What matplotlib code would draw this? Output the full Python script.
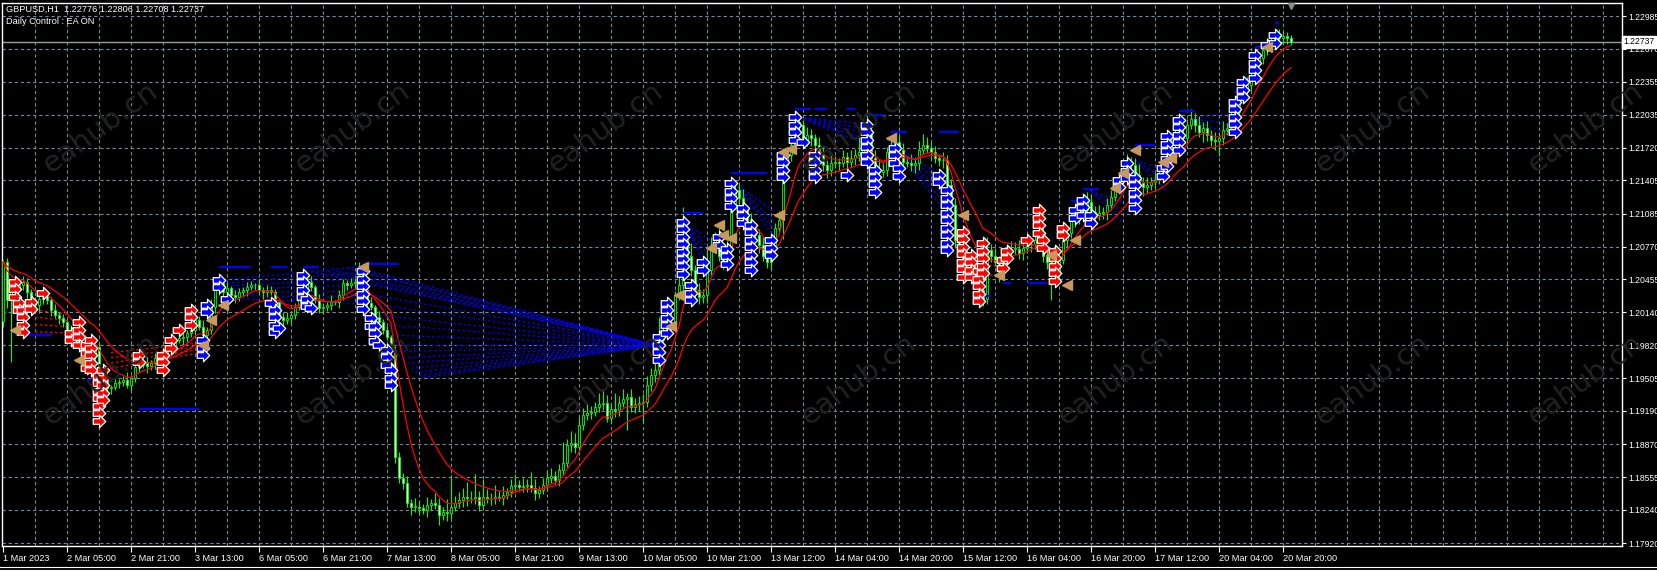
import numpy as np
import pandas as pd
import matplotlib
matplotlib.use("Agg")
import matplotlib.pyplot as plt
from matplotlib.path import Path
from matplotlib.lines import Line2D
from matplotlib.transforms import blended_transform_factory

plt.rcParams['font.family'] = ['Liberation Sans', 'DejaVu Sans']

# ---- data (GBPUSD H1) ----
symbol = "GBPUSD,H1"
first_open = 1.2005
closes = [
    1.2062, 1.2026, 1.2033, 1.2037, 1.2040, 1.2043, 1.2033, 1.2026, 1.2021, 1.2027, 1.2030, 1.2026, 1.2016, 1.2011, 1.2008, 1.2004, 1.1997, 1.1991, 1.1987, 1.1982,
    1.1978, 1.1975, 1.1971, 1.1980, 1.1956, 1.1951, 1.1941, 1.1942, 1.1946, 1.1947, 1.1949, 1.1944, 1.1951, 1.1961, 1.1963, 1.1965, 1.1962, 1.1965, 1.1970, 1.1972,
    1.1975, 1.1978, 1.1981, 1.1987, 1.1989, 1.1990, 1.1994, 1.1997, 1.2006, 1.2000, 1.1992, 1.1997, 1.2019, 1.2035, 1.2042, 1.2033, 1.2037, 1.2030, 1.2028, 1.2033,
    1.2035, 1.2038, 1.2040, 1.2040, 1.2035, 1.2033, 1.2035, 1.2033, 1.2024, 1.2009, 1.2006, 1.2008, 1.2011, 1.2019, 1.2027, 1.2035, 1.2043, 1.2038, 1.2026, 1.2018,
    1.2019, 1.2021, 1.2024, 1.2024, 1.2030, 1.2042, 1.2040, 1.2042, 1.2043, 1.2050, 1.2035, 1.2023, 1.2019, 1.2009, 1.2004, 1.1997, 1.1990, 1.1978, 1.1875, 1.1855,
    1.1850, 1.1831, 1.1827, 1.1827, 1.1826, 1.1824, 1.1829, 1.1831, 1.1829, 1.1819, 1.1822, 1.1821, 1.1827, 1.1831, 1.1833, 1.1836, 1.1835, 1.1835, 1.1836, 1.1829,
    1.1836, 1.1835, 1.1835, 1.1836, 1.1835, 1.1838, 1.1841, 1.1847, 1.1848, 1.1846, 1.1847, 1.1848, 1.1845, 1.1840, 1.1843, 1.1848, 1.1855, 1.1856, 1.1853, 1.1862,
    1.1869, 1.1886, 1.1888, 1.1884, 1.1905, 1.1915, 1.1917, 1.1918, 1.1923, 1.1926, 1.1927, 1.1912, 1.1921, 1.1920, 1.1927, 1.1930, 1.1932, 1.1923, 1.1926, 1.1927,
    1.1928, 1.1944, 1.1954, 1.1958, 1.1987, 1.1997, 1.2004, 1.2001, 1.2030, 1.2040, 1.2083, 1.2068, 1.2054, 1.2035, 1.2028, 1.2030, 1.2054, 1.2078, 1.2086, 1.2068,
    1.2062, 1.2074, 1.2117, 1.2131, 1.2124, 1.2112, 1.2102, 1.2095, 1.2088, 1.2078, 1.2068, 1.2062, 1.2078, 1.2095, 1.2102, 1.2155, 1.2165, 1.2175, 1.2197, 1.2194,
    1.2179, 1.2184, 1.2181, 1.2175, 1.2165, 1.2155, 1.2151, 1.2157, 1.2158, 1.2157, 1.2163, 1.2158, 1.2162, 1.2165, 1.2168, 1.2170, 1.2189, 1.2162, 1.2151, 1.2149,
    1.2151, 1.2168, 1.2174, 1.2177, 1.2170, 1.2158, 1.2157, 1.2155, 1.2157, 1.2170, 1.2175, 1.2172, 1.2168, 1.2162, 1.2160, 1.2160, 1.2136, 1.2117, 1.2083, 1.2078,
    1.2054, 1.2064, 1.2050, 1.2054, 1.2035, 1.2027, 1.2074, 1.2068, 1.2062, 1.2050, 1.2066, 1.2074, 1.2075, 1.2075, 1.2071, 1.2076, 1.2078, 1.2079, 1.2083, 1.2091,
    1.2068, 1.2062, 1.2052, 1.2050, 1.2064, 1.2083, 1.2090, 1.2102, 1.2107, 1.2109, 1.2112, 1.2120, 1.2110, 1.2107, 1.2109, 1.2110, 1.2117, 1.2125, 1.2134, 1.2141,
    1.2151, 1.2158, 1.2155, 1.2146, 1.2138, 1.2134, 1.2136, 1.2139, 1.2141, 1.2146, 1.2155, 1.2165, 1.2175, 1.2184, 1.2183, 1.2181, 1.2194, 1.2200, 1.2194, 1.2187,
    1.2191, 1.2184, 1.2179, 1.2178, 1.2181, 1.2189, 1.2191, 1.2199, 1.2206, 1.2220, 1.2227, 1.2232, 1.2239, 1.2254, 1.2258, 1.2266, 1.2271, 1.2274, 1.2280, 1.2277,
    1.2279, 1.22776, 1.22737,
]
# wick lengths beyond the body, in pips
hi_ext = [
    2, 4, 3, 5, 3, 6, 4, 3, 2, 5, 4, 3, 2, 6, 3, 4, 2, 5, 3, 4,
    3, 5, 2, 8, 4, 3, 6, 2, 5, 3, 4, 7, 3, 5, 2, 4, 6, 3, 5, 2,
    4, 3, 6, 2, 5, 4, 3, 7, 5, 4, 6, 3, 8, 5, 4, 3, 6, 2, 5, 4,
    3, 5, 4, 2, 6, 3, 5, 4, 3, 2, 5, 6, 3, 4, 5, 3, 4, 6, 2, 5,
    4, 3, 6, 2, 5, 4, 3, 5, 4, 12, 3, 4, 5, 2, 6, 3, 4, 2, 3, 5,
    4, 6, 3, 8, 5, 4, 7, 3, 9, 6, 5, 12, 30, 6, 8, 9, 15, 7, 22, 6,
    18, 8, 5, 12, 6, 9, 4, 7, 10, 5, 8, 6, 12, 9, 4, 7, 6, 8, 5, 6,
    20, 6, 12, 10, 8, 7, 9, 6, 5, 10, 13, 7, 5, 15, 6, 10, 4, 8, 5, 6,
    7, 9, 6, 8, 22, 6, 5, 10, 4, 8, 32, 6, 12, 5, 7, 6, 20, 8, 5, 9,
    6, 8, 10, 5, 6, 8, 4, 7, 5, 6, 8, 4, 6, 5, 9, 12, 5, 8, 10, 6,
    5, 8, 6, 4, 7, 9, 5, 8, 6, 4, 7, 5, 8, 6, 14, 5, 18, 6, 8, 10,
    6, 5, 8, 4, 7, 6, 5, 9, 6, 8, 10, 7, 5, 6, 4, 8, 5, 6, 7, 5,
    12, 6, 8, 5, 7, 6, 12, 5, 8, 6, 10, 5, 7, 6, 8, 5, 9, 6, 8, 10,
    6, 5, 7, 8, 6, 9, 5, 7, 8, 6, 5, 9, 7, 6, 8, 5, 7, 6, 9, 8,
    6, 8, 5, 7, 10, 6, 8, 5, 7, 6, 8, 9, 6, 5, 8, 7, 6, 9, 5, 8,
    6, 7, 5, 8, 6, 9, 5, 7, 8, 6, 5, 8, 7, 6, 5, 7, 6, 5, 4, 6,
    5, 4, 3,
]
lo_ext = [
    5, 8, 60, 4, 3, 5, 6, 4, 3, 8, 5, 4, 6, 3, 5, 4, 7, 3, 5, 4,
    6, 4, 5, 3, 7, 5, 4, 6, 3, 5, 4, 3, 6, 4, 5, 3, 7, 4, 6, 5,
    3, 5, 4, 6, 3, 7, 5, 4, 6, 3, 5, 8, 4, 6, 5, 4, 3, 6, 5, 3,
    4, 6, 3, 5, 4, 6, 5, 3, 7, 4, 6, 3, 5, 4, 3, 6, 5, 4, 3, 5,
    6, 4, 5, 3, 6, 4, 5, 3, 4, 6, 5, 4, 3, 6, 5, 4, 3, 5, 6, 5,
    6, 4, 8, 5, 6, 4, 7, 5, 4, 10, 5, 8, 6, 4, 5, 6, 7, 4, 5, 6,
    5, 4, 6, 5, 3, 6, 4, 5, 6, 4, 5, 6, 4, 7, 5, 4, 6, 5, 4, 6,
    5, 4, 6, 5, 7, 4, 5, 6, 4, 5, 6, 4, 5, 7, 6, 4, 29, 5, 6, 7,
    20, 5, 6, 7, 4, 5, 8, 6, 5, 4, 7, 6, 5, 8, 6, 5, 7, 4, 6, 5,
    7, 5, 6, 4, 7, 8, 5, 6, 4, 7, 5, 6, 8, 4, 6, 18, 5, 6, 4, 5,
    6, 5, 7, 4, 6, 5, 8, 6, 5, 7, 4, 6, 5, 7, 6, 5, 4, 6, 5, 7,
    5, 6, 4, 7, 5, 6, 4, 5, 7, 6, 4, 5, 7, 5, 6, 8, 6, 10, 7, 5,
    13, 6, 5, 8, 6, 7, 5, 6, 4, 7, 5, 6, 8, 5, 6, 7, 5, 6, 4, 5,
    6, 7, 26, 5, 6, 4, 7, 5, 6, 8, 5, 6, 4, 7, 5, 6, 8, 5, 4, 6,
    5, 6, 4, 7, 5, 8, 6, 5, 7, 4, 6, 5, 7, 6, 8, 5, 6, 4, 7, 5,
    10, 6, 5, 8, 14, 6, 5, 7, 4, 6, 5, 7, 6, 5, 4, 6, 5, 7, 6, 4,
    5, 6, 3,
]

time_labels = ["1 Mar 2023", "2 Mar 05:00", "2 Mar 21:00", "3 Mar 13:00", "6 Mar 05:00",
               "6 Mar 21:00", "7 Mar 13:00", "8 Mar 05:00", "8 Mar 21:00", "9 Mar 13:00",
               "10 Mar 05:00", "10 Mar 21:00", "13 Mar 12:00", "14 Mar 04:00", "14 Mar 20:00",
               "15 Mar 12:00", "16 Mar 04:00", "16 Mar 20:00", "17 Mar 12:00", "20 Mar 04:00",
               "20 Mar 20:00"]
price_levels = [1.22985, 1.22670, 1.22355, 1.22035, 1.21720, 1.21405, 1.21085, 1.20770, 1.20455,
                1.20140, 1.19820, 1.19505, 1.19190, 1.18870, 1.18555, 1.18240, 1.17920]
last_high, last_low = 1.22806, 1.22708

# signal arrows: (bar, top price, how many stacked)
red_stacks = [(3, 1.2043, 3), (4, 1.2023, 2), (5, 1.2016, 4), (7, 1.2024, 2), (10, 1.2032, 1),
              (17, 1.1994, 2), (19, 1.2004, 4), (21, 1.1982, 4), (22, 1.1987, 5), (24, 1.1953, 7),
              (25, 1.1958, 5), (34, 1.1973, 2), (40, 1.1973, 3), (42, 1.1987, 2), (44, 1.1997, 1),
              (47, 1.2016, 3), (240, 1.2091, 7), (242, 1.2069, 4), (244, 1.2053, 5), (245, 1.2080, 5),
              (250, 1.2064, 2), (251, 1.2073, 2), (256, 1.2083, 1), (259, 1.2112, 4), (260, 1.2083, 2),
              (263, 1.2073, 5), (265, 1.2095, 2)]
blue_stacks = [(50, 1.1987, 3), (51, 1.2021, 2), (54, 1.2045, 2), (56, 1.2027, 1), (67, 1.2023, 1),
               (68, 1.2016, 4), (69, 1.1999, 1), (75, 1.2050, 4), (76, 1.2027, 2), (77, 1.2018, 1),
               (90, 1.2053, 6), (92, 1.2008, 2), (93, 1.2001, 3), (94, 1.1982, 1), (96, 1.1978, 3),
               (97, 1.1958, 3), (164, 1.1990, 4), (166, 1.2023, 5), (170, 1.2101, 8), (172, 1.2040, 3),
               (175, 1.2062, 2), (179, 1.2086, 2), (181, 1.2075, 3), (182, 1.2138, 4), (185, 1.2114, 3),
               (187, 1.2098, 7), (192, 1.2083, 3), (195, 1.2165, 4), (198, 1.2201, 4), (200, 1.2177, 1),
               (203, 1.2165, 4), (211, 1.2146, 1), (216, 1.2194, 6), (218, 1.2151, 4), (223, 1.2172, 3),
               (224, 1.2152, 2), (234, 1.2146, 2), (236, 1.2131, 9), (268, 1.2112, 2), (270, 1.2122, 3),
               (272, 1.2107, 2), (279, 1.2141, 2), (281, 1.2157, 3), (283, 1.2143, 5), (290, 1.2152, 2),
               (291, 1.2183, 5), (294, 1.2199, 5), (308, 1.2216, 5), (310, 1.2235, 3), (313, 1.2261, 4),
               (316, 1.2271, 1), (318, 1.2280, 2)]
tri_bars = [3, 19, 50, 52, 55, 90, 167, 169, 177, 179, 180, 182, 194, 195, 197, 222,
            240, 249, 262, 266, 268, 278, 280, 283, 290, 292, 316]
tri_prices = [1.1997, 1.1968, 1.1982, 1.2006, 1.2021, 1.2057, 1.2001, 1.2030, 1.2076, 1.2098, 1.2088,
              1.2085, 1.2107, 1.2168, 1.2171, 1.2181, 1.2107, 1.2050, 1.2069, 1.2040, 1.2083,
              1.2133, 1.2148, 1.2170, 1.2158, 1.2162, 1.2269]
# short blue levels: (from bar, to bar, price)
levels = [(5, 12, 1.1992), (21, 22, 1.1949), (34, 49, 1.1921), (54, 62, 1.2057), (67, 71, 1.2057),
          (75, 79, 1.2057), (90, 99, 1.2060), (170, 175, 1.2109), (182, 191, 1.2148), (198, 202, 1.2209),
          (203, 206, 1.2209), (211, 213, 1.2209), (216, 220, 1.2203), (222, 226, 1.2187), (234, 239, 1.2187),
          (244, 247, 1.2029), (250, 252, 1.2042), (256, 261, 1.2042), (267, 269, 1.2121), (270, 274, 1.2132),
          (283, 288, 1.2175), (294, 298, 1.2207), (308, 309, 1.2225), (313, 315, 1.2269), (318, 319, 1.2292)]
# dotted projection fans: (start bar, end bar, start prices, end prices)
big_fan_starts = [(77, 1.2053), (80, 1.2054), (83, 1.2054), (86, 1.2056), (89, 1.2056), (92, 1.2050),
                  (93, 1.2040), (93, 1.2030), (94, 1.2021), (94, 1.2011), (95, 1.2002), (96, 1.1992),
                  (97, 1.1982), (99, 1.1976), (100, 1.1970), (101, 1.1965), (102, 1.1960), (103, 1.1956),
                  (104, 1.1953), (105, 1.1951)]
big_fan_end = (163.5, 1.1982)
blue_fans = [
    (56, 90, [1.2045, 1.2042, 1.2039, 1.2036, 1.2033, 1.2030, 1.2027],
     [1.2058, 1.2052, 1.2046, 1.2040, 1.2034, 1.2028, 1.2022]),
    (170, 178, [1.2101], [1.2080, 1.2070, 1.2060, 1.2050, 1.2040]),
    (183, 193, [1.2138], [1.2110, 1.2100, 1.2092, 1.2085]),
    (199, 216, [1.2201], [1.2195, 1.2190, 1.2185, 1.2180, 1.2175]),
    (221, 240, [1.2180], [1.2130, 1.2120, 1.2110, 1.2100, 1.2090]),
    (272, 280, [1.2130], [1.2120, 1.2110, 1.2100]),
    (283, 291, [1.2160], [1.2150, 1.2140, 1.2130]),
    (297, 306, [1.2200], [1.2205, 1.2195, 1.2185, 1.2175]),
]
red_fans = [
    (8, 16, [1.2016, 1.2009, 1.2002, 1.1995], [1.2012, 1.2006, 1.2000, 1.1994]),
    (27, 51, [1.1975, 1.1970, 1.1965, 1.1960], [1.1985, 1.1982, 1.1979, 1.1976]),
    (244, 249, [1.2070, 1.2060, 1.2050], [1.2066, 1.2058, 1.2050]),
]

# ---- build OHLC ----
opens = np.array([first_open] + closes[:-1])
c = np.array(closes)
pip = 0.0001
highs = np.maximum(opens, c) + np.array(hi_ext) * pip
lows = np.minimum(opens, c) - np.array(lo_ext) * pip
bars = np.arange(len(c))
ma_fast = pd.Series(closes).ewm(span=8, adjust=False).mean()
ma_slow = pd.Series(closes).ewm(span=18, adjust=False).mean()

W, H = 1657, 571
fig = plt.figure(figsize=(W / 100, H / 100), dpi=100, facecolor='black')
ax = fig.add_axes([2 / W, 25 / H, 1620 / W, 543 / H])
ax.set_facecolor('black')
ax.set_xlim(-0.25, 404.75)
ax.set_ylim(1.17892, 1.23110)

grid_col = '#778899'
for p in price_levels:
    ax.axhline(p, color=grid_col, lw=0.8, ls=(0, (3, 2.5)), zorder=1)
for b in range(8, 405, 8):
    ax.axvline(b, color=grid_col, lw=0.8, ls=(0, (3, 2.5)), zorder=1)

# watermark
wm_x = [100, 352, 605, 858, 1115, 1372, 1585]
for row_y in (128, 380):
    for wx in wm_x:
        fig.text(wx / W, 1 - row_y / H, "eahub.cn", color='#222222', fontsize=21,
                 family='DejaVu Sans', rotation=36, ha='center', va='center', zorder=0.5)

# fans
fan_ls = (0, (2, 2))
for sb, sp in big_fan_starts:
    ax.plot([sb, big_fan_end[0]], [sp, big_fan_end[1]], color='#0000FF', lw=0.9, ls=fan_ls, zorder=2)
for start, end, starts, ends in blue_fans:
    n = max(len(starts), len(ends))
    for k in range(n):
        sp = starts[min(k, len(starts) - 1)]
        ep = ends[min(k, len(ends) - 1)]
        ax.plot([start, end], [sp, ep], color='#0000FF', lw=0.9, ls=fan_ls, zorder=2)
for start, end, starts, ends in red_fans:
    for sp, ep in zip(starts, ends):
        ax.plot([start, end], [sp, ep], color='#FF0000', lw=0.9, ls=fan_ls, zorder=2)

# candles
ax.vlines(bars, lows, highs, color='#00FF00', lw=0.8, zorder=3)
body_lo = np.minimum(opens, c)
body_h = np.maximum(np.abs(c - opens), 0.00004)
face = ['white' if cl < op else 'black' for op, cl in zip(opens, c)]
ax.bar(bars, body_h, bottom=body_lo, width=0.7, color=face, edgecolor='#00FF00', lw=0.6, zorder=3)

# moving averages
ax.plot(bars, ma_fast, color='#FF0000', lw=0.9, zorder=4)
ax.plot(bars, ma_slow, color='#FF0000', lw=0.9, zorder=4)

# levels
for b0, b1, p in levels:
    ax.hlines(p, b0, b1, color='#0000FF', lw=1.6, zorder=4)

# arrows
arrow = Path([(-1, -0.45), (0.0, -0.45), (0.0, -1.0), (1, 0), (0.0, 1.0), (0.0, 0.45),
              (-1, 0.45), (-1, -0.45)], closed=True)
step = 0.00072
for stacks, col in ((red_stacks, '#FF0000'), (blue_stacks, '#0000FF')):
    for b, top, n in stacks:
        ys = [top - k * step for k in range(n)]
        ax.plot([b] * n, ys, ls='none', marker=arrow, ms=9, mfc=col, mec='white',
                mew=0.9, zorder=6)

ax.plot(tri_bars, tri_prices, ls='none', marker='<', ms=7, mfc='#C8995A', mec='#C8995A', zorder=6)

# current price line
last = closes[-1]
ax.axhline(last, color='#9A9A9A', lw=1.0, zorder=2)
ax.plot([len(c) - 1], [1.2308], marker='v', ms=5, color='#8C8C8C', ls='none', zorder=6, clip_on=False)

# axes styling
for sp in ax.spines.values():
    sp.set_color('white')
    sp.set_linewidth(1.0)
ax.yaxis.tick_right()
ax.set_yticks(price_levels)
ax.set_yticklabels([f"{p:.5f}" for p in price_levels])
ax.set_xticks(range(0, 16 * len(time_labels), 16))
ax.set_xticklabels(time_labels)
for lab in ax.get_xticklabels():
    lab.set_ha('left')
ax.tick_params(axis='y', colors='white', labelsize=6.2, length=3, width=0.8, pad=1.5)
ax.tick_params(axis='x', colors='white', labelsize=6.6, length=4, width=0.8, pad=1.5)

tr = blended_transform_factory(ax.transAxes, ax.transData)
ax.text(1.0008, last, f"{last:.5f}", transform=tr, ha='left', va='center', fontsize=6.2,
        color='black', zorder=10, clip_on=False,
        bbox=dict(boxstyle='square,pad=0.2', fc='white', ec='white'))

fig.text(6 / W, 1 - 9 / H, f"{symbol}  {opens[-1]:.5f} {last_high:.5f} {last_low:.5f} {last:.5f}",
         color='white', fontsize=6.6, ha='left', va='center')
fig.text(6 / W, 1 - 22 / H, "Daily Control : EA ON", color='white', fontsize=6.6,
         ha='left', va='center')

fig.add_artist(Line2D([0, 1], [4 / H, 4 / H], color='white', lw=0.8))
fig.add_artist(Line2D([0, 1], [1.5 / H, 1.5 / H], color='white', lw=0.8))

fig.savefig('out.png', dpi=100, facecolor='black')
